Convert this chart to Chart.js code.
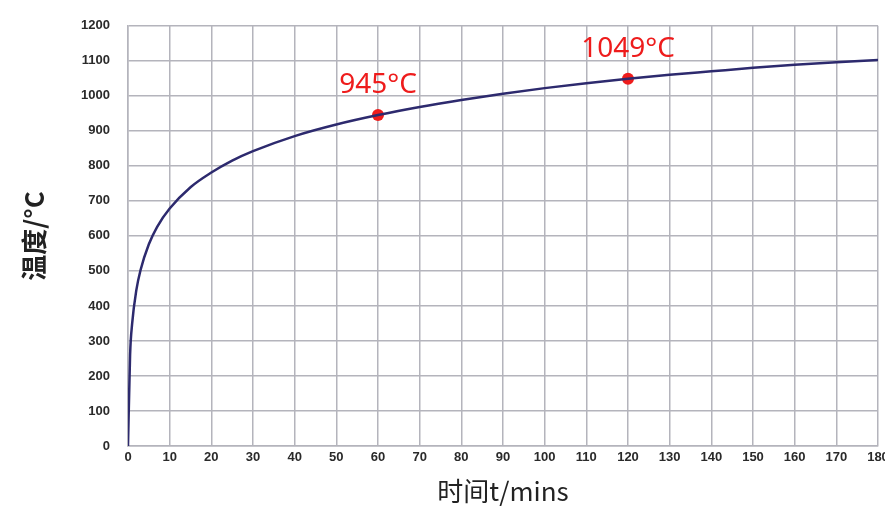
<!DOCTYPE html>
<html>
<head>
<meta charset="utf-8">
<script src="https://cdn.jsdelivr.net/npm/chart.js@4"></script>
<style>
  html, body { margin: 0; padding: 0; background: #fff; overflow: hidden; }
  #wrap { width: 905px; height: 507px; }
</style>
</head>
<body>
<div id="wrap"><canvas id="fireChart"></canvas></div>
<script>
// Values
const timeMin = [0, 0.5, 1, 2, 3, 5, 7, 10, 15, 20, 25, 30, 40, 50, 60, 70, 80, 90, 100, 110, 120, 130, 140, 150, 160, 170, 180];
const tempC = [0, 260, 350, 445, 502, 576, 626, 678, 739, 781, 815, 842, 885, 918, 945, 968, 988, 1006, 1022, 1036, 1049, 1060, 1070, 1080, 1089, 1096, 1102];

const markerTimes = [60, 120];
const markerTemps = [945, 1049];
const markerLabels = ['945°C', '1049°C'];

const X_MAX = 180;
const Y_MAX = 1200;

const GRID_COLOR = '#b4b4bc';
const LINE_COLOR = '#2d2a6e';
const MARK_COLOR = '#ee1c1c';

const markerLabelPlugin = {
  id: 'markerLabels',
  afterDatasetsDraw(chart) {
    const meta = chart.getDatasetMeta(1);
    const ctx = chart.ctx;
    ctx.save();
    ctx.fillStyle = MARK_COLOR;
    ctx.font = '28px "Noto Sans", sans-serif';
    ctx.textAlign = 'center';
    ctx.textBaseline = 'alphabetic';
    meta.data.forEach((pt, i) => {
      ctx.fillText(markerLabels[i], pt.x, pt.y - 22);
    });
    ctx.restore();
  }
};

const tickFont = { family: '"Liberation Sans", sans-serif', size: 13, weight: 'bold' };

const ctx = document.getElementById('fireChart');

new Chart(ctx, {
  type: 'line',
  data: {
    datasets: [{
      data: timeMin.map((t, i) => ({ x: t, y: tempC[i] })),
      borderColor: LINE_COLOR,
      borderWidth: 2.5,
      pointRadius: 0,
      cubicInterpolationMode: 'monotone',
      fill: false
    }, {
      data: markerTimes.map((t, i) => ({ x: t, y: markerTemps[i] })),
      showLine: false,
      pointRadius: 6,
      pointBackgroundColor: MARK_COLOR,
      pointBorderColor: MARK_COLOR,
      pointBorderWidth: 0
    }]
  },
  options: {
    responsive: true,
    maintainAspectRatio: false,
    animation: false,
    layout: {
      padding: { top: 23, right: 27, bottom: 0, left: 0 }
    },
    plugins: {
      legend: { display: false },
      tooltip: { enabled: false }
    },
    scales: {
      x: {
        type: 'linear',
        min: 0,
        max: X_MAX,
        afterFit(scale) { scale.height = 61; },
        ticks: {
          stepSize: 10,
          padding: 4,
          color: '#2a2a2a',
          font: tickFont,
          callback: v => String(v)
        },
        grid: { color: GRID_COLOR, lineWidth: 1.5, drawTicks: false },
        border: { color: GRID_COLOR, width: 1.5 },
        title: {
          display: true,
          text: '时间t/mins',
          color: '#222',
          padding: { top: 0, bottom: 0 },
          font: { family: '"Noto Sans CJK SC", "Noto Sans", sans-serif', size: 26 }
        }
      },
      y: {
        min: 0,
        max: Y_MAX,
        afterFit(scale) { scale.width = 128; },
        ticks: {
          stepSize: 100,
          padding: 18,
          color: '#2a2a2a',
          font: tickFont,
          callback: v => String(v)
        },
        grid: { color: GRID_COLOR, lineWidth: 1.5, drawTicks: false },
        border: { color: GRID_COLOR, width: 1.5 },
        title: {
          display: true,
          text: '温度/°C',
          color: '#222',
          padding: { top: 19, bottom: 0 },
          font: { family: '"Noto Sans CJK SC", "Noto Sans", sans-serif', size: 26, weight: 'bold' }
        }
      }
    }
  },
  plugins: [markerLabelPlugin]
});
</script>
</body>
</html>
